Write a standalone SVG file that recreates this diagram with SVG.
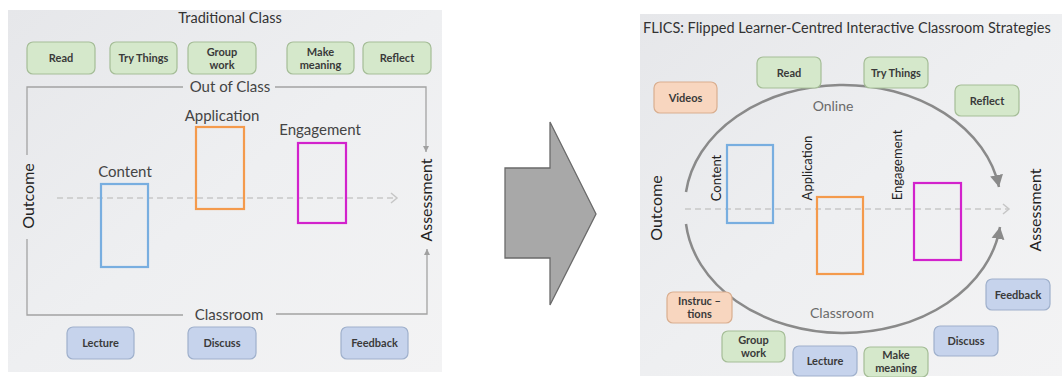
<svg xmlns="http://www.w3.org/2000/svg" width="1062" height="377" viewBox="0 0 1062 377">
<defs>
<linearGradient id="bg" x1="0" y1="0" x2="1" y2="1">
<stop offset="0" stop-color="#e6e7ea"/>
<stop offset="0.5" stop-color="#eeeff1"/>
<stop offset="1" stop-color="#f3f3f4"/>
</linearGradient>
<marker id="thin" markerUnits="userSpaceOnUse" markerWidth="8" markerHeight="8" refX="6" refY="4" orient="auto">
<path d="M0,1 L6,4 L0,7 Z" fill="#a0a0a0"/>
</marker>
<marker id="chev" markerUnits="userSpaceOnUse" markerWidth="10" markerHeight="12" refX="7" refY="6" orient="auto">
<path d="M1,1 L7,6 L1,11" fill="none" stroke="#c6c6c6" stroke-width="1.5"/>
</marker>
<marker id="big" markerUnits="userSpaceOnUse" markerWidth="14" markerHeight="14" refX="12" refY="7" orient="auto">
<path d="M0,0.5 L12,7 L0,13.5 Z" fill="#8a8a8a"/>
</marker>
</defs>
<style>
text{font-family:Lato,"Liberation Sans",sans-serif}
.title{font-size:14.5px;fill:#333}
.btxt{font-size:11px;font-weight:bold;fill:#3a3a3a;text-anchor:middle}
.green{fill:#d5e8cb;stroke:#a5bd97;stroke-width:1.2}
.blue{fill:#c6d3ec;stroke:#9fb0cc;stroke-width:1.2}
.orange{fill:#f8d6bf;stroke:#d9ae8f;stroke-width:1.2}
.lbl{font-size:15px;fill:#444;text-anchor:middle}
.side{font-size:16px;fill:#222;text-anchor:middle}
.rlbl{font-size:13px;fill:#222;text-anchor:middle}
.gline{fill:none;stroke:#a3a3a3;stroke-width:1.3}
.dash{fill:none;stroke:#c8c8c8;stroke-width:1.5;stroke-dasharray:6 4}
.arc{fill:none;stroke:#8a8a8a;stroke-width:2.5}
.glbl{font-size:14px;fill:#6a6a6a;text-anchor:middle}
</style>

<!-- Left panel -->
<rect x="8" y="10" width="434" height="362" fill="url(#bg)"/>
<text x="230" y="23" class="title" text-anchor="middle">Traditional Class</text>

<g id="connectors-left">
<path class="gline" d="M27,155 V87 H183 M275,87 H426 V152" marker-end="url(#thin)"/>
<path class="gline" d="M27,239 V315 H183 M276,314 H427 V249" marker-end="url(#thin)"/>
<path class="dash" d="M57,198 H397" marker-end="url(#chev)"/>
</g>
<text x="230" y="92" class="lbl">Out of Class</text>
<text x="229" y="320" class="lbl">Classroom</text>
<text transform="translate(34,196) rotate(-90)" class="side">Outcome</text>
<text transform="translate(432,200) rotate(-90)" class="side">Assessment</text>

<g id="l-content"><text x="125" y="177" class="lbl">Content</text><rect x="101" y="184" width="47" height="83" fill="none" stroke="#78aee0" stroke-width="2.2"/></g>
<g id="l-application"><text x="222" y="121" class="lbl">Application</text><rect x="196" y="127" width="48" height="82" fill="none" stroke="#f49a4c" stroke-width="2.2"/></g>
<g id="l-engagement"><text x="320" y="135" class="lbl">Engagement</text><rect x="298" y="143" width="48" height="80" fill="none" stroke="#d222cc" stroke-width="2.2"/></g>

<g id="l-read"><rect x="27" y="42" width="68" height="32" rx="6" class="green"/><text x="61" y="62" class="btxt">Read</text></g>
<g id="l-try"><rect x="110" y="42" width="67" height="32" rx="6" class="green"/><text x="143.5" y="62" class="btxt">Try Things</text></g>
<g id="l-group"><rect x="188" y="42" width="68" height="32" rx="6" class="green"/><text x="222" y="56" class="btxt">Group</text><text x="222" y="69" class="btxt">work</text></g>
<g id="l-make"><rect x="287" y="42" width="67" height="32" rx="6" class="green"/><text x="320.5" y="56" class="btxt">Make</text><text x="320.5" y="69" class="btxt">meaning</text></g>
<g id="l-reflect"><rect x="363" y="42" width="68" height="32" rx="6" class="green"/><text x="397" y="62" class="btxt">Reflect</text></g>
<g id="l-lecture"><rect x="67" y="327" width="67" height="32" rx="6" class="blue"/><text x="100.5" y="347" class="btxt">Lecture</text></g>
<g id="l-discuss"><rect x="188" y="327" width="68" height="32" rx="6" class="blue"/><text x="222" y="347" class="btxt">Discuss</text></g>
<g id="l-feedback"><rect x="341" y="327" width="67" height="32" rx="6" class="blue"/><text x="374.5" y="347" class="btxt">Feedback</text></g>

<!-- Big arrow -->
<g id="big-arrow"><polygon points="505,168 550,168 550,122 596,214 550,305 550,258 505,258" fill="#a8a8a8" stroke="#6a6a6a" stroke-width="1.3"/></g>

<!-- Right panel -->
<rect x="640" y="14" width="422" height="362" fill="url(#bg)"/>
<text x="643" y="33" class="title">FLICS: Flipped Learner-Centred Interactive Classroom Strategies</text>

<g id="connectors-right">
<path class="arc" d="M686,192 A158,121 0 0 1 999,187" marker-end="url(#big)"/>
<path class="arc" d="M686,224 A158,121 0 0 0 1000,227" marker-end="url(#big)"/>
<path class="dash" d="M685,209 H1009" marker-end="url(#chev)"/>
</g>
<text x="833" y="111" class="glbl">Online</text>
<text x="842" y="318" class="glbl">Classroom</text>
<text transform="translate(662,208) rotate(-90)" class="side" font-size="15">Outcome</text>
<text transform="translate(1041,210) rotate(-90)" class="side" font-size="15">Assessment</text>

<g id="r-content"><text transform="translate(721,178) rotate(-90)" class="rlbl">Content</text><rect x="727" y="145" width="46" height="78" fill="none" stroke="#78aee0" stroke-width="2.2"/></g>
<g id="r-application"><text transform="translate(812,168) rotate(-90)" class="rlbl">Application</text><rect x="817" y="197" width="46" height="77" fill="none" stroke="#f49a4c" stroke-width="2.2"/></g>
<g id="r-engagement"><text transform="translate(902,165) rotate(-90)" class="rlbl">Engagement</text><rect x="914" y="183" width="47" height="77" fill="none" stroke="#d222cc" stroke-width="2.2"/></g>

<g id="r-videos"><rect x="654" y="82" width="63" height="31" rx="6" class="orange"/><text x="685.5" y="101.5" class="btxt">Videos</text></g>
<g id="r-read"><rect x="757" y="57" width="64" height="31" rx="6" class="green"/><text x="789" y="76.5" class="btxt">Read</text></g>
<g id="r-try"><rect x="864" y="57" width="64" height="31" rx="6" class="green"/><text x="896" y="76.5" class="btxt">Try Things</text></g>
<g id="r-reflect"><rect x="955" y="85" width="64" height="31" rx="6" class="green"/><text x="987" y="104.5" class="btxt">Reflect</text></g>
<g id="r-instruc"><rect x="667" y="292" width="65" height="31" rx="6" class="orange"/><text x="699.5" y="305" class="btxt">Instruc –</text><text x="699.5" y="318" class="btxt">tions</text></g>
<g id="r-group"><rect x="722" y="331" width="63" height="31" rx="6" class="green"/><text x="753.5" y="344" class="btxt">Group</text><text x="753.5" y="357" class="btxt">work</text></g>
<g id="r-lecture"><rect x="793" y="346" width="64" height="30" rx="6" class="blue"/><text x="825" y="365" class="btxt">Lecture</text></g>
<g id="r-make"><rect x="864" y="347" width="64" height="30" rx="6" class="green"/><text x="896" y="359" class="btxt">Make</text><text x="896" y="372" class="btxt">meaning</text></g>
<g id="r-discuss"><rect x="934" y="326" width="64" height="30" rx="6" class="blue"/><text x="966" y="345" class="btxt">Discuss</text></g>
<g id="r-feedback"><rect x="986" y="279" width="64" height="31" rx="6" class="blue"/><text x="1018" y="298.5" class="btxt">Feedback</text></g>
</svg>
